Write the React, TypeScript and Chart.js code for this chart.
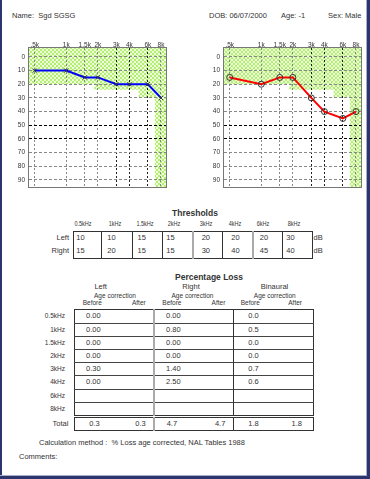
import React, { useEffect, useRef } from 'react';
import { Chart, registerables } from 'chart.js';
Chart.register(...registerables);

// ---------- data ----------
const frequencies = [500, 1000, 1500, 2000, 3000, 4000, 6000, 8000];
const freqTickLabels = ['.5k', '1k', '1.5k', '2k', '3k', '4k', '6k', '8k'];
const dbTicks = [0, 10, 20, 30, 40, 50, 60, 70, 80, 90];
const leftThresholds = [10, 10, 15, 15, 20, 20, 20, 30];
const rightThresholds = [15, 20, 15, 15, 30, 40, 45, 40];
const normalZoneFreq = [441, 1850, 1850, 4900, 4900, 7000, 7000, 8930];
const normalZoneDb = [20, 20, 24, 24, 29.5, 29.5, 95.2, 95.2];

const thresholdHeaders = ['0.5kHz', '1kHz', '1.5kHz', '2kHz', '3kHz', '4kHz', '6kHz', '8kHz'];
const lossRowLabels = ['0.5kHz', '1kHz', '1.5kHz', '2kHz', '3kHz', '4kHz', '6kHz', '8kHz'];
const leftLossBefore = ['0.00', '0.00', '0.00', '0.00', '0.30', '0.00', '', ''];
const rightLossBefore = ['0.00', '0.80', '0.00', '0.00', '1.40', '2.50', '', ''];
const binauralLossBefore = ['0.0', '0.5', '0.0', '0.0', '0.7', '0.6', '', ''];
const totalsBefore = ['0.3', '4.7', '1.8'];
const totalsAfter = ['0.3', '4.7', '1.8'];

// ---------- layout ----------
const FONT = '"Liberation Sans", Arial, sans-serif';
const thrHeaderX = [82.7, 115, 145, 174, 205.7, 235, 263, 294];
const thrValueX = [80.5, 111.5, 141.7, 170.5, 205.8, 235.5, 264, 290.5];
const thrDividers = [101, 132, 162, 192, 222, 252, 282];
const thrThick = [192, 252];
const lossRowLines = [322.5, 335.7, 348.9, 362.1, 375.3, 388.5, 401.7];
const lossTop = 309.3;
const lossRowH = 13.2;

function makePattern() {
  const c = document.createElement('canvas');
  c.width = 4; c.height = 4;
  const g = c.getContext('2d')!;
  g.fillStyle = '#ecffd9';
  g.fillRect(0, 0, 4, 4);
  g.fillStyle = '#b4ee74';
  g.fillRect(0, 0, 2, 2);
  g.fillRect(2, 2, 2, 2);
  return g.createPattern(c, 'repeat');
}

const framePlugin = {
  id: 'frame',
  afterDraw(chart: any) {
    const { ctx, chartArea: a } = chart;
    ctx.save();
    ctx.strokeStyle = '#777';
    ctx.lineWidth = 1;
    ctx.setLineDash([]);
    ctx.strokeRect(Math.round(a.left) - 0.5, Math.round(a.top) - 0.5, Math.round(a.right - a.left) + 1, Math.round(a.bottom - a.top) + 1);
    ctx.restore();
  },
};

function Audiogram({ values, color, pointStyle, left, top }: any) {
  const ref = useRef<HTMLCanvasElement>(null);
  useEffect(() => {
    const pattern = makePattern();
    const tickFont = { family: FONT, size: 6.5 };
    const chart = new Chart(ref.current!, {
      type: 'line',
      data: {
        datasets: [
          {
            data: values.map((v: number, i: number) => ({ x: frequencies[i], y: v })),
            borderColor: color,
            borderWidth: 2,
            pointStyle,
            pointRadius: 3,
            pointBorderColor: '#333',
            pointBackgroundColor: 'rgba(0,0,0,0)',
            pointBorderWidth: 1,
            fill: false,
            order: 0,
          } as any,
          {
            data: normalZoneFreq.map((f, i) => ({ x: f, y: normalZoneDb[i] })),
            fill: 'end',
            backgroundColor: pattern as any,
            borderColor: 'rgba(0,0,0,0)',
            borderWidth: 0,
            pointRadius: 0,
            order: 1,
          } as any,
        ],
      },
      options: {
        animation: false,
        responsive: false,
        maintainAspectRatio: false,
        layout: { padding: { left: 0, right: 9, top: 0, bottom: 5 } },
        plugins: {
          legend: { display: false },
          tooltip: { enabled: false },
          filler: { drawTime: 'beforeDraw' } as any,
        },
        scales: {
          x: {
            type: 'logarithmic',
            position: 'top',
            min: 441,
            max: 8930,
            bounds: 'data',
            afterBuildTicks: (s: any) => { s.ticks = frequencies.map((v) => ({ value: v })); },
            afterFit: (s: any) => { s.height = 19; },
            ticks: {
              autoSkip: false, maxRotation: 0, minRotation: 0, padding: -1,
              font: tickFont, color: '#333',
              callback: (_v: any, i: number) => freqTickLabels[i],
            },
            grid: {
              drawTicks: false,
              lineWidth: 1,
              color: (c: any) => ([3000, 4000, 6000].includes(c.tick?.value) ? '#222' : '#888'),
            },
            border: { display: false, dash: [2, 2] },
          } as any,
          y: {
            type: 'linear',
            reverse: true,
            min: -6.5,
            max: 95.2,
            afterBuildTicks: (s: any) => { s.ticks = dbTicks.map((v) => ({ value: v })); },
            afterFit: (s: any) => { s.width = 29; },
            ticks: { padding: 4, font: tickFont, color: '#333', callback: (v: any) => String(v) },
            grid: {
              drawTicks: false,
              lineWidth: 1,
              color: (c: any) => (c.tick?.value === 50 || c.tick?.value === 60 ? '#000' : '#888'),
            },
            border: { display: false, dash: [3, 2] },
          } as any,
        },
      },
      plugins: [framePlugin],
    });
    return () => chart.destroy();
  }, []);
  return (
    <div style={{ position: 'absolute', left, top, width: 175, height: 166 }}>
      <canvas ref={ref} width={175} height={166} style={{ width: 175, height: 166, display: 'block' }} />
    </div>
  );
}

function Txt({ x, y, align = 'left', size = 7.5, bold = false, children, sx = 1 }: any) {
  const w = 240;
  const left = align === 'left' ? x : align === 'center' ? x - w / 2 : x - w;
  const origin = align === 'left' ? 'left' : align === 'center' ? 'center' : 'right';
  return (
    <div
      style={{
        position: 'absolute', left, top: y - 6, width: w, height: 12, lineHeight: '12px',
        fontSize: size, fontWeight: bold ? 'bold' : 'normal', textAlign: align, whiteSpace: 'pre',
        color: '#333', fontFamily: FONT, transform: sx !== 1 ? `scaleX(${sx})` : undefined,
        transformOrigin: origin,
      }}
    >
      {children}
    </div>
  );
}

function Box({ x, y, w, h, border = '1px solid #333' }: any) {
  return <div style={{ position: 'absolute', left: x, top: y, width: w, height: h, border, boxSizing: 'border-box' }} />;
}
function VLine({ x, y1, y2, w = 1, color = '#333' }: any) {
  return <div style={{ position: 'absolute', left: x, top: y1, width: w, height: y2 - y1, background: color }} />;
}
function HLine({ y, x1, x2, h = 1, color = '#333' }: any) {
  return <div style={{ position: 'absolute', left: x1, top: y, width: x2 - x1, height: h, background: color }} />;
}

export default function App() {
  const lossCols = [
    { data: leftLossBefore, x: 86 },
    { data: rightLossBefore, x: 166 },
    { data: binauralLossBefore, x: 248.3 },
  ];
  const beforeX = [82.7, 162.3, 240.7];
  const afterX = [145.7, 225.3, 302];
  const totalBeforeX = [89.3, 166.7, 248.3];
  return (
    <div style={{ position: 'fixed', left: 0, top: 0, width: 370, height: 479, background: '#fff', overflow: 'hidden', fontFamily: FONT }}>
      {/* page frame */}
      <VLine x={0} y1={0} y2={479} w={2} color="#2c356e" />
      <VLine x={366} y1={0} y2={476} w={1} color="#a9aec8" />
      <VLine x={367} y1={0} y2={479} w={3} color="#2c356e" />
      <HLine y={475} x1={0} x2={367} h={1} color="#a9aec8" />
      <HLine y={476} x1={0} x2={370} h={3} color="#2c356e" />

      {/* header */}
      <Txt x={12} y={15.7}>{'Name:  Sgd SGSG'}</Txt>
      <Txt x={209} y={15.7}>{'DOB: 06/07/2000'}</Txt>
      <Txt x={281} y={15.7}>{'Age: -1'}</Txt>
      <Txt x={328} y={15.7}>{'Sex: Male'}</Txt>

      <Audiogram values={leftThresholds} color="#0000ff" pointStyle="crossRot" left={0} top={29} />
      <Audiogram values={rightThresholds} color="#ff0000" pointStyle="circle" left={195} top={29} />

      {/* thresholds */}
      <Txt x={195} y={213} align="center" size={8.5} bold>Thresholds</Txt>
      {thresholdHeaders.map((h, i) => (
        <Txt key={h} x={thrHeaderX[i]} y={224} align="center" size={6.5} sx={0.85}>{h}</Txt>
      ))}
      <Box x={73} y={231} w={240} h={28} />
      {thrDividers.map((x) => (
        thrThick.includes(x)
          ? <VLine key={x} x={x - 0.5} y1={231} y2={259} w={2} color="#aaa" />
          : <VLine key={x} x={x} y1={231} y2={259} />
      ))}
      <Txt x={69} y={237.8} align="right">Left</Txt>
      <Txt x={69} y={251.4} align="right">Right</Txt>
      {leftThresholds.map((v, i) => <Txt key={'l' + i} x={thrValueX[i]} y={237.8} align="center">{String(v)}</Txt>)}
      {rightThresholds.map((v, i) => <Txt key={'r' + i} x={thrValueX[i]} y={251.4} align="center">{String(v)}</Txt>)}
      <Txt x={313.5} y={237.8}>dB</Txt>
      <Txt x={313.5} y={251.4}>dB</Txt>

      {/* percentage loss */}
      <Txt x={209} y={276.7} align="center" size={8.5} bold>Percentage Loss</Txt>
      <Txt x={100.7} y={287.3} align="center">Left</Txt>
      <Txt x={191} y={287.3} align="center">Right</Txt>
      <Txt x={274.5} y={287.3} align="center">Binaural</Txt>
      {[115, 192.5, 274.8].map((x) => <Txt key={x} x={x} y={296} align="center" size={6.5}>Age correction</Txt>)}
      {beforeX.map((x) => <Txt key={'b' + x} x={x} y={302.7} size={6.5}>Before</Txt>)}
      {afterX.map((x) => <Txt key={'a' + x} x={x} y={302.7} align="right" size={6.5}>After</Txt>)}

      <Box x={74} y={lossTop} w={240} h={106.5} />
      {lossRowLines.map((y) => <HLine key={y} y={y} x1={74} x2={314} color="#444" />)}
      <VLine x={153} y1={lossTop} y2={416} w={2} color="#aaa" />
      <VLine x={233} y1={lossTop} y2={416} />
      {lossRowLabels.map((l, i) => (
        <Txt key={l} x={65} y={lossTop + lossRowH * (i + 0.5) + 0.5} align="right" size={6.5}>{l}</Txt>
      ))}
      {lossCols.map((c) => c.data.map((v, i) => (
        <Txt key={c.x + '-' + i} x={c.x} y={lossTop + lossRowH * (i + 0.5) + 0.5}>{v}</Txt>
      )))}

      <Box x={74} y={417.3} w={240} h={14} />
      <VLine x={153} y1={417.3} y2={431.3} w={2} color="#aaa" />
      <VLine x={233} y1={417.3} y2={431.3} />
      <Txt x={68.3} y={424} align="right">Total</Txt>
      {totalsBefore.map((v, i) => <Txt key={'tb' + i} x={totalBeforeX[i]} y={424}>{v}</Txt>)}
      {totalsAfter.map((v, i) => <Txt key={'ta' + i} x={afterX[i]} y={424} align="right">{v}</Txt>)}

      <Txt x={39} y={442.7}>{'Calculation method :  % Loss age corrected, NAL Tables 1988'}</Txt>
      <Txt x={19} y={456.7}>Comments:</Txt>
    </div>
  );
}
